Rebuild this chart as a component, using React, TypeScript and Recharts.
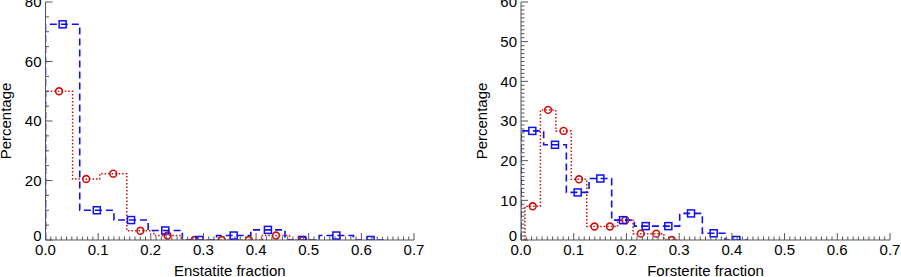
import { ComposedChart, Line, Scatter, XAxis, YAxis } from "recharts";

// Enstatite panel: bin edges and percentages
const enBlueEdges = [0, 0.065, 0.13, 0.195, 0.26, 0.325, 0.39, 0.455, 0.52, 0.585, 0.65];
const enBlueValues = [72.5, 10, 6.7, 3.2, 0, 1.5, 3.4, 0, 1.5, 0];
const enRedEdges = [0, 0.0515, 0.103, 0.1545, 0.206, 0.2575, 0.309, 0.3605, 0.412, 0.4635, 0.515];
const enRedValues = [50, 20.5, 22.3, 3.1, 1.5, 0, 0, 0, 1.5, 0];

// Forsterite panel
const foBlueEdges = [0, 0.043, 0.086, 0.129, 0.172, 0.215, 0.258, 0.301, 0.344, 0.387, 0.43];
const foBlueValues = [27.5, 24, 12, 15.5, 5, 3.5, 3.5, 6.7, 1.7, 0];
const foRedEdges = [0.0075, 0.0368, 0.0661, 0.0954, 0.1247, 0.154, 0.1833, 0.2126, 0.2419, 0.2712, 0.3005];
const foRedValues = [8.5, 32.8, 27.5, 15.3, 3.4, 3.4, 5, 1.6, 1.6, 0];

const xMajor = [0, 0.1, 0.2, 0.3, 0.4, 0.5, 0.6, 0.7];
const enYMajor = [0, 20, 40, 60, 80];
const foYMajor = [0, 10, 20, 30, 40, 50, 60];

const BLUE = "#1010f0";
const RED = "#cc1111";
const AXIS = "#555";
const FONT = "'Liberation Sans', Arial, sans-serif";

function minorTicks(max: number, step: number) {
  const out: number[] = [];
  const n = Math.round(max / step);
  for (let i = 0; i <= n; i++) out.push(+(i * step).toFixed(4));
  return out;
}

function isMajor(v: number, majors: number[]) {
  return majors.some((m) => Math.abs(m - v) < 1e-6);
}

function steps(edges: number[], values: number[]) {
  const pts = [{ x: edges[0], y: 0 }];
  values.forEach((v, i) => {
    pts.push({ x: edges[i], y: v });
    pts.push({ x: edges[i + 1], y: v });
  });
  return pts;
}

function centers(edges: number[], values: number[]) {
  return values.map((v, i) => ({ x: (edges[i] + edges[i + 1]) / 2, y: v }));
}

const MAJ = 7;
const MIN = 3.5;

function makeTick(side: "bottom" | "top" | "left" | "right", majors: number[], fmt?: (v: number) => string) {
  return (props: any) => {
    const { x, y, payload } = props;
    const v = payload.value;
    const major = isMajor(v, majors);
    const len = major ? MAJ : MIN;
    let line;
    if (side === "bottom") line = <line x1={x} x2={x} y1={y} y2={y - len} stroke={AXIS} />;
    else if (side === "top") line = <line x1={x} x2={x} y1={y} y2={y + len} stroke={AXIS} />;
    else if (side === "left") line = <line x1={x} x2={x + len} y1={y} y2={y} stroke={AXIS} />;
    else line = <line x1={x} x2={x - len} y1={y} y2={y} stroke={AXIS} />;
    let label = null;
    if (major && fmt && side === "bottom")
      label = (
        <text x={x} y={y + 14.5} textAnchor="middle" fontSize={15} fontFamily={FONT} fill="#000">
          {fmt(v)}
        </text>
      );
    if (major && fmt && side === "left")
      label = (
        <text x={x - 4} y={y + 5.4 - (v === 0 ? 4.5 : 0)} textAnchor="end" fontSize={15} fontFamily={FONT} fill="#000">
          {fmt(v)}
        </text>
      );
    return (
      <g>
        {line}
        {label}
      </g>
    );
  };
}

const square = (props: any) => (
  <rect x={props.cx - 3.5} y={props.cy - 3.5} width={7} height={7} fill="none" stroke={BLUE} strokeWidth={1.5} />
);
const circle = (props: any) => (
  <circle cx={props.cx} cy={props.cy} r={3.4} fill="none" stroke={RED} strokeWidth={1.6} />
);

type PanelProps = {
  width: number;
  left: number;
  right: number;
  yMax: number;
  yMajor: number[];
  yMinorStep: number;
  xTitle: string;
  yTitleX: number;
  blueEdges: number[];
  blueValues: number[];
  redEdges: number[];
  redValues: number[];
};

function Panel(p: PanelProps) {
  const xTicks = minorTicks(0.7, 0.01);
  const yTicks = minorTicks(p.yMax, p.yMinorStep);
  return (
    <ComposedChart width={p.width} height={277} margin={{ top: 2, right: p.right, bottom: 0, left: 0 }}>
      <XAxis
        xAxisId="b"
        dataKey="x"
        type="number"
        domain={[0, 0.7]}
        allowDataOverflow
        ticks={xTicks}
        interval={0}
        tickSize={0}
        tickMargin={0}
        tickLine={false}
        height={37}
        axisLine={{ stroke: AXIS }}
        tick={makeTick("bottom", xMajor, (v) => v.toFixed(1))}
        label={{
          content: (lp: any) => (
            <text
              x={lp.viewBox.x + lp.viewBox.width / 2}
              y={276}
              textAnchor="middle"
              fontSize={15}
              fontFamily={FONT}
              fill="#000"
            >
              {p.xTitle}
            </text>
          ),
        }}
      />
      <XAxis
        xAxisId="t"
        orientation="top"
        dataKey="x"
        type="number"
        domain={[0, 0.7]}
        allowDataOverflow
        ticks={xTicks}
        interval={0}
        tickSize={0}
        tickMargin={0}
        tickLine={false}
        height={0}
        axisLine={{ stroke: AXIS }}
        tick={makeTick("top", xMajor)}
      />
      <YAxis
        yAxisId="l"
        type="number"
        domain={[0, p.yMax]}
        allowDataOverflow
        ticks={yTicks}
        interval={0}
        tickSize={0}
        tickMargin={0}
        tickLine={false}
        width={p.left}
        axisLine={{ stroke: AXIS }}
        tick={makeTick("left", p.yMajor, (v) => String(v))}
        label={{
          content: (lp: any) => {
            const cy = lp.viewBox.y + lp.viewBox.height / 2;
            return (
              <text
                x={p.yTitleX}
                y={cy}
                transform={`rotate(-90 ${p.yTitleX} ${cy})`}
                textAnchor="middle"
                fontSize={15}
                fontFamily={FONT}
                fill="#000"
              >
                Percentage
              </text>
            );
          },
        }}
      />
      <YAxis
        yAxisId="r"
        orientation="right"
        type="number"
        domain={[0, p.yMax]}
        allowDataOverflow
        ticks={yTicks}
        interval={0}
        tickSize={0}
        tickMargin={0}
        tickLine={false}
        width={0}
        axisLine={{ stroke: AXIS }}
        tick={makeTick("right", p.yMajor)}
      />
      <Line
        xAxisId="b"
        yAxisId="l"
        data={steps(p.redEdges, p.redValues)}
        dataKey="y"
        type="linear"
        stroke={RED}
        strokeWidth={1.5}
        strokeDasharray="1.5 2"
        dot={false}
        isAnimationActive={false}
      />
      <Line
        xAxisId="b"
        yAxisId="l"
        data={steps(p.blueEdges, p.blueValues)}
        dataKey="y"
        type="linear"
        stroke={BLUE}
        strokeWidth={1.6}
        strokeDasharray="7 4"
        dot={false}
        isAnimationActive={false}
      />
      <Scatter
        xAxisId="b"
        yAxisId="l"
        data={centers(p.redEdges, p.redValues)}
        dataKey="y"
        shape={circle}
        isAnimationActive={false}
      />
      <Scatter
        xAxisId="b"
        yAxisId="l"
        data={centers(p.blueEdges, p.blueValues)}
        dataKey="y"
        shape={square}
        isAnimationActive={false}
      />
    </ComposedChart>
  );
}

export default function App() {
  return (
    <div style={{ position: "absolute", left: 0, top: 0, width: 901, height: 277, background: "#fff" }}>
      <div style={{ position: "absolute", left: 0, top: 0 }}>
        <Panel
          width={460}
          left={45.5}
          right={46}
          yMax={80}
          yMajor={enYMajor}
          yMinorStep={5}
          xTitle="Enstatite fraction"
          yTitleX={10.5}
          blueEdges={enBlueEdges}
          blueValues={enBlueValues}
          redEdges={enRedEdges}
          redValues={enRedValues}
        />
      </div>
      <div style={{ position: "absolute", left: 460, top: 0 }}>
        <Panel
          width={441}
          left={61}
          right={11}
          yMax={60}
          yMajor={foYMajor}
          yMinorStep={1}
          xTitle="Forsterite fraction"
          yTitleX={27}
          blueEdges={foBlueEdges}
          blueValues={foBlueValues}
          redEdges={foRedEdges}
          redValues={foRedValues}
        />
      </div>
    </div>
  );
}
